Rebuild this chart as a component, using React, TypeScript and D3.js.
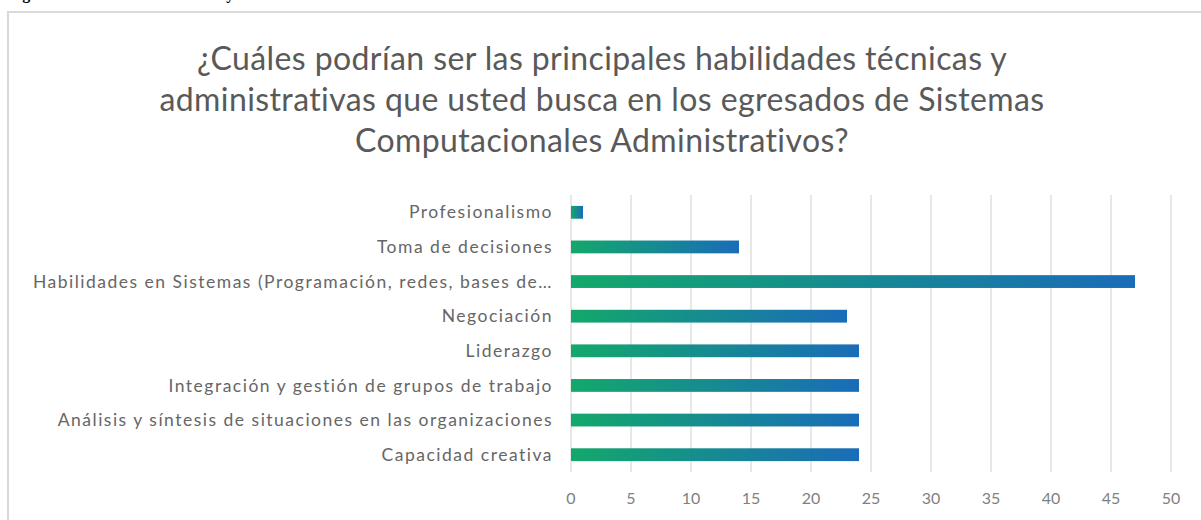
import React from "react";
import * as d3 from "d3";

const categories = [
  "Profesionalismo",
  "Toma de decisiones",
  "Habilidades en Sistemas (Programación, redes, bases de…",
  "Negociación",
  "Liderazgo",
  "Integración y gestión de grupos de trabajo",
  "Análisis y síntesis de situaciones en las organizaciones",
  "Capacidad creativa",
];
const values = [1, 14, 47, 23, 24, 24, 24, 24];
const xTicks = [0, 5, 10, 15, 20, 25, 30, 35, 40, 45, 50];
const titleLines = [
  "¿Cuáles podrían ser las principales habilidades técnicas y",
  "administrativas que usted busca en los egresados de Sistemas",
  "Computacionales Administrativos?",
];
const caption = "Figura 14. Habilidades técnicas y administrativas";

const W = 1201;
const H = 520;
const FONT = "Lato, 'Open Sans', sans-serif";

export default function App() {
  const x = d3.scaleLinear().domain([0, 50]).range([571, 1171]);
  const y = d3
    .scaleBand<string>()
    .domain(categories)
    .range([195, 472])
    .paddingInner(0.63)
    .paddingOuter(0.315);

  return (
    <svg
      width={W}
      height={H}
      style={{ position: "fixed", left: 0, top: 0, background: "#fff" }}
    >
      <defs>
        <linearGradient id="barGrad" x1="0" x2="1" y1="0" y2="0">
          <stop offset="0" stopColor="#13a86b" />
          <stop offset="1" stopColor="#1a6cb9" />
        </linearGradient>
      </defs>
      <rect x={0} y={0} width={W} height={H} fill="#fff" />
      <text
        x={8}
        y={-1}
        fontFamily="'Liberation Serif', 'Times New Roman', serif"
        fontWeight="bold"
        fontSize={16}
        fill="#000"
      >
        {caption}
      </text>
      {/* chart border */}
      <path d={`M8,${H + 2} V12 H${W + 2}`} fill="none" stroke="#d9d9d9" strokeWidth={2} />

      {titleLines.map((t, i) => (
        <text
          key={i}
          x={602}
          y={70 + i * 41}
          textAnchor="middle"
          fontFamily={FONT}
          fontSize={32}
          letterSpacing={0.4}
          fill="#595959"
        >
          {t}
        </text>
      ))}

      {xTicks.map((t) => (
        <g key={t}>
          <line
            x1={x(t)}
            x2={x(t)}
            y1={y.range()[0]}
            y2={y.range()[1]}
            stroke="#d9d9d9"
            strokeWidth={1.2}
          />
          <text
            x={x(t)}
            y={504}
            textAnchor="middle"
            fontFamily={FONT}
            fontSize={16}
            fill="#7f7f7f"
          >
            {t}
          </text>
        </g>
      ))}

      {categories.map((c, i) => (
        <g key={c}>
          <rect
            x={x(0)}
            y={y(c)!}
            width={x(values[i]) - x(0)}
            height={y.bandwidth()}
            fill="url(#barGrad)"
          />
          <text
            x={553}
            y={y(c)! + y.bandwidth() / 2}
            dy="0.35em"
            textAnchor="end"
            fontFamily={FONT}
            fontSize={17.5}
            letterSpacing={1.5}
            fill="#666666"
          >
            {c}
          </text>
        </g>
      ))}
    </svg>
  );
}
